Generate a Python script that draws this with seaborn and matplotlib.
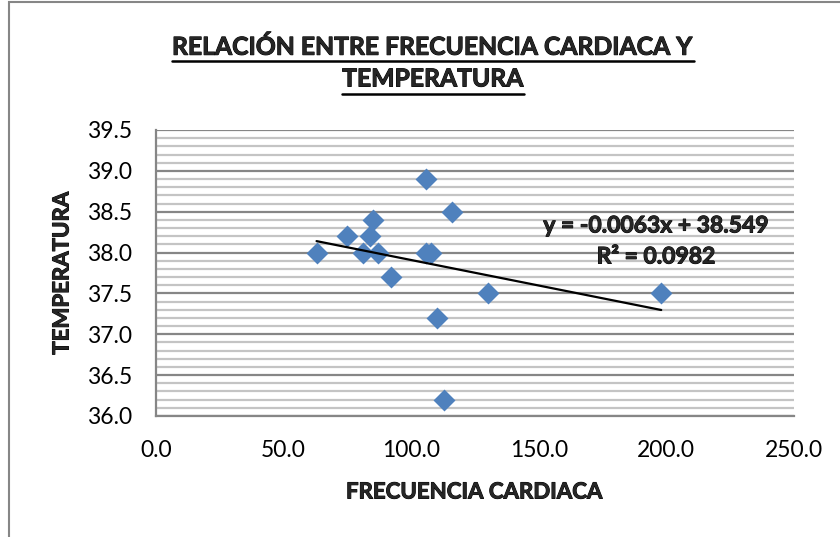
import numpy as np
import pandas as pd
import matplotlib
matplotlib.use("Agg")
import matplotlib.pyplot as plt
import seaborn as sns
from matplotlib.ticker import MultipleLocator, FormatStrFormatter
from matplotlib.lines import Line2D
from matplotlib.patches import Rectangle
import matplotlib.patheffects as pe

# ---- data ----
frecuencia = [63, 75, 85, 84, 81, 87, 92, 106, 116, 106, 108, 130, 110, 113, 198]
temperatura = [38.0, 38.2, 38.4, 38.2, 38.0, 38.0, 37.7, 38.9, 38.5, 38.0, 38.0, 37.5, 37.2, 36.2, 37.5]
title_lines = ["RELACIÓN ENTRE FRECUENCIA CARDIACA Y", "TEMPERATURA"]
x_label = "FRECUENCIA CARDIACA"
y_label = "TEMPERATURA"
eq_text = "y = -0.0063x + 38.549"
r2_text = "R² = 0.0982"

df = pd.DataFrame({"fc": frecuencia, "temp": temperatura})

sns.set_style("white")
plt.rcParams["font.family"] = ["Lato", "DejaVu Sans"]

W, H = 840, 537
fig = plt.figure(figsize=(W / 100, H / 100), dpi=100)
ax = fig.add_axes([155.7 / W, 1 - 416 / H, (794 - 155.7) / W, (416 - 130) / H])

axis_gray = "#868686"
minor_gray = "#C4C4C4"
blue = "#4F81BD"
thick = [pe.withStroke(linewidth=0.7, foreground="black")]

sns.scatterplot(data=df, x="fc", y="temp", marker="D", s=125, color=blue,
                edgecolor=blue, linewidth=0, ax=ax, zorder=3)
sns.regplot(data=df, x="fc", y="temp", scatter=False, ci=None, truncate=True,
            color="black", line_kws={"lw": 1.6, "zorder": 4}, ax=ax)

ax.set_xlim(0, 250)
ax.set_ylim(36.0, 39.5)
ax.xaxis.set_major_locator(MultipleLocator(50))
ax.yaxis.set_major_locator(MultipleLocator(0.5))
ax.yaxis.set_minor_locator(MultipleLocator(0.1))
ax.xaxis.set_major_formatter(FormatStrFormatter("%.1f"))
ax.yaxis.set_major_formatter(FormatStrFormatter("%.1f"))

ax.set_axisbelow(True)
ax.grid(False)
ax.grid(which="minor", axis="y", color=minor_gray, lw=1.6)
ax.grid(which="major", axis="y", color=axis_gray, lw=1.6)

for s in ["top", "right"]:
    ax.spines[s].set_visible(False)
for s in ["left", "bottom"]:
    ax.spines[s].set_color(axis_gray)
    ax.spines[s].set_linewidth(1.6)

ax.tick_params(axis="both", which="major", direction="out", length=6,
               width=1.4, color=axis_gray, labelsize=16.5, labelcolor="black")
ax.tick_params(axis="y", which="major", pad=11)
ax.tick_params(axis="x", which="major", pad=11)
ax.tick_params(axis="y", which="minor", length=0)

ax.set_xlabel(x_label, fontsize=16, fontweight="bold", va="center", path_effects=thick)
ax.set_ylabel(y_label, fontsize=16, fontweight="bold", va="center", path_effects=thick)
ax.xaxis.set_label_coords((474 - 155.7) / 638.3, -(492 - 416) / 286)
ax.yaxis.set_label_coords((62 - 155.7) / 638.3, 0.5)

# regression annotation
ax.text(656 / W, 1 - 226 / H, eq_text, transform=fig.transFigure, ha="center",
        va="center", fontsize=16.5, fontweight="bold", zorder=5, path_effects=thick)
ax.text(656 / W, 1 - 257 / H, r2_text, transform=fig.transFigure, ha="center",
        va="center", fontsize=16.5, fontweight="bold", zorder=5, path_effects=thick)

# title with underline
t1 = fig.text(433 / W, 1 - 47 / H, title_lines[0], ha="center", va="center",
              fontsize=17.8, fontweight="bold", path_effects=thick)
t2 = fig.text(433 / W, 1 - 79 / H, title_lines[1], ha="center", va="center",
              fontsize=17.8, fontweight="bold", path_effects=thick)

# chart-area border (left and top visible)
fig.add_artist(Rectangle((9 / W, -0.05), 1.2, 1 - 1.5 / H + 0.05, transform=fig.transFigure,
                         fill=False, edgecolor=axis_gray, lw=1.5))

fig.canvas.draw()
r = fig.canvas.get_renderer()
for t, uy in ((t1, 61), (t2, 94)):
    bb = t.get_window_extent(r)
    y = 1 - uy / H
    fig.add_artist(Line2D([bb.x0 / W, bb.x1 / W], [y, y], transform=fig.transFigure,
                          color="black", lw=1.8))

fig.savefig("out.png", dpi=100)
